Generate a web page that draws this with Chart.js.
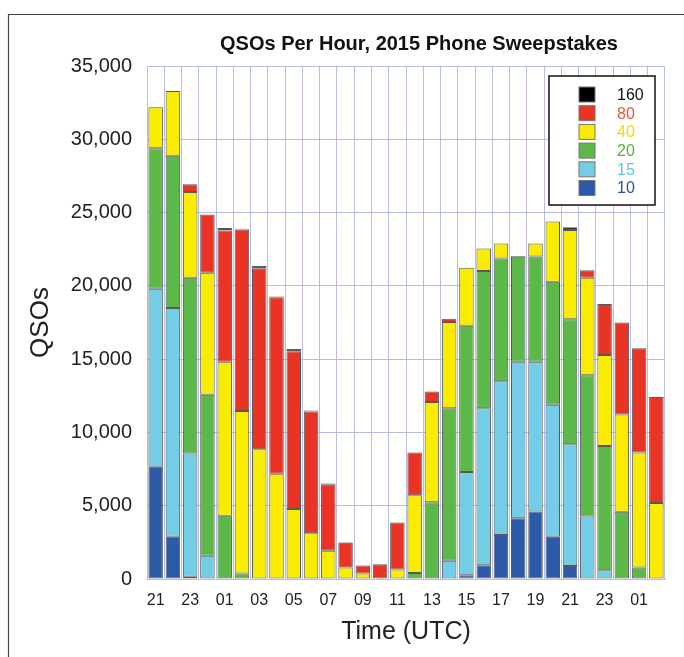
<!DOCTYPE html>
<html>
<head>
<meta charset="utf-8">
<script src="https://cdn.jsdelivr.net/npm/chart.js@4"></script>
<style>
  html, body { margin: 0; padding: 0; background: #fff; }
  #wrap { width: 684px; height: 657px; position: relative; }
</style>
</head>
<body>
<div id="wrap"><canvas id="myChart" width="684" height="657"></canvas></div>
<script>
// hours, 21 UTC saturday .. 02 UTC monday
var hours = ['21','22','23','00','01','02','03','04','05','06','07','08','09','10','11',
             '12','13','14','15','16','17','18','19','20','21','22','23','00','01','02'];

// QSOs per band per hour (stacked)
var band10  = [7660,2890,150,0,0,0,0,0,0,0,0,0,0,0,0,
               0,0,0,250,940,3010,4150,4610,2890,890,0,0,0,0,0];
var band15  = [12140,15600,8410,1580,0,0,0,0,0,0,0,0,0,0,0,
               0,0,1240,7050,10710,10480,10670,10210,8990,8310,4270,600,0,0,0];
var band20  = [9590,10390,11990,10990,4310,370,0,0,0,0,0,0,0,0,0,
               410,5230,10410,9970,9360,8370,7160,7180,8400,8530,9630,8480,4590,780,0];
var band40  = [2790,4410,5850,8330,10510,11100,8850,7180,4770,3120,1930,780,370,0,640,
               5300,6840,5880,3970,1540,1030,60,890,4110,6080,6650,6200,6630,7850,5180];
var band80  = [0,0,530,3970,8950,12370,12350,12040,10760,8300,4540,1700,550,1010,3210,
               2920,730,230,0,0,0,0,0,0,0,510,3480,6280,7110,7230];
var band160 = [0,0,0,0,180,60,180,50,160,80,50,30,0,0,0,
               0,0,0,0,0,0,0,0,0,190,0,0,0,0,0];

var bandNames  = ['10','15','20','40','80','160'];
var bandColors = ['#2a5aa8','#74cde6','#5cb848','#f9ec00','#e93324','#000000'];
var bandText   = ['#2c4ea2','#5cc6e8','#52b040','#efde00','#f05236','#111111'];

var yTicks = [0,5000,10000,15000,20000,25000,30000,35000];

var gridCol = '#b6bde6';
var fontFam = '"Liberation Sans", Arial, sans-serif';

var frame = {
  id: 'frame',
  beforeDraw: function(chart){
    var c = chart.ctx;
    c.save();
    c.fillStyle = '#fff';
    c.fillRect(0,0,chart.width,chart.height);
    c.strokeStyle = '#444';
    c.lineWidth = 1.2;
    c.beginPath();
    c.moveTo(8.5, chart.height);
    c.lineTo(8.5, 14.5);
    c.lineTo(chart.width, 14.5);
    c.stroke();
    c.restore();
  },
  afterDraw: function(chart){
    var c = chart.ctx, a = chart.chartArea;
    c.save();
    c.fillStyle = '#111';
    c.font = 'bold 20px ' + fontFam;
    c.textAlign = 'center';
    c.textBaseline = 'middle';
    c.fillText('QSOs Per Hour, 2015 Phone Sweepstakes', (a.left + a.right) / 2 + 13, 44);
    c.restore();
  }
};

var boxLegend = {
  id: 'boxLegend',
  afterDraw: function(chart){
    var c = chart.ctx, a = chart.chartArea;
    var x = a.right - 116, y = a.top + 10, w = 106, h = 129;
    c.save();
    c.fillStyle = '#fff';
    c.fillRect(x, y, w, h);
    c.strokeStyle = '#111';
    c.lineWidth = 1.5;
    c.strokeRect(x, y, w, h);
    c.font = '16px ' + fontFam;
    c.textBaseline = 'middle';
    for (var i = 0; i < 6; i++) {
      var k = 5 - i;
      var yy = y + 18.5 + i * 18.7;
      c.fillStyle = bandColors[k];
      c.fillRect(x + 30, yy - 7.5, 16, 15);
      c.strokeStyle = '#777';
      c.lineWidth = 1;
      c.strokeRect(x + 30, yy - 7.5, 16, 15);
      c.fillStyle = bandText[k];
      c.fillText(bandNames[k], x + 68, yy + 1);
    }
    c.restore();
  }
};

var bands = [band10, band15, band20, band40, band80, band160];
var datasets = [];
for (var i = 0; i < bands.length; i++) {
  datasets.push({
    label: bandNames[i],
    data: bands[i],
    backgroundColor: bandColors[i],
    borderColor: 'rgba(60,60,60,0.85)',
    borderWidth: 1,
    borderSkipped: false,
    barPercentage: 0.84,
    categoryPercentage: 1
  });
}

var ctx = document.getElementById('myChart').getContext('2d');
var myChart = new Chart(ctx, {
  type: 'bar',
  data: { labels: hours, datasets: datasets },
  options: {
    responsive: false,
    animation: false,
    layout: { padding: { left: 0, right: 19, top: 66, bottom: 0 } },
    plugins: {
      legend: { display: false },
      tooltip: { enabled: false },
      title: { display: false }
    },
    scales: {
      x: {
        stacked: true,
        afterFit: function(s){ s.height = 78; },
        grid: { color: gridCol, lineWidth: 1, drawTicks: false, offset: true },
        border: { color: gridCol },
        ticks: {
          autoSkip: false,
          maxRotation: 0,
          padding: 12,
          color: '#222',
          font: { family: fontFam, size: 16 },
          callback: function(v, i){ return i % 2 === 0 ? hours[i] : ''; }
        },
        title: {
          display: true,
          text: 'Time (UTC)',
          color: '#222',
          font: { family: fontFam, size: 25 },
          padding: { top: 0, bottom: 10 }
        }
      },
      y: {
        stacked: true,
        min: 0,
        max: 35000,
        afterFit: function(s){ s.width = 147; },
        afterBuildTicks: function(s){ s.ticks = yTicks.map(function(v){ return { value: v }; }); },
        grid: { color: gridCol, lineWidth: 1, drawTicks: false },
        border: { color: gridCol },
        ticks: {
          padding: 15,
          color: '#222',
          font: { family: fontFam, size: 20 },
          callback: function(v){ return v.toLocaleString('en-US'); }
        },
        title: {
          display: true,
          text: 'QSOs',
          color: '#222',
          font: { family: fontFam, size: 26 },
          padding: { top: 25, bottom: 0 }
        }
      }
    }
  },
  plugins: [frame, boxLegend]
});
</script>
</body>
</html>
